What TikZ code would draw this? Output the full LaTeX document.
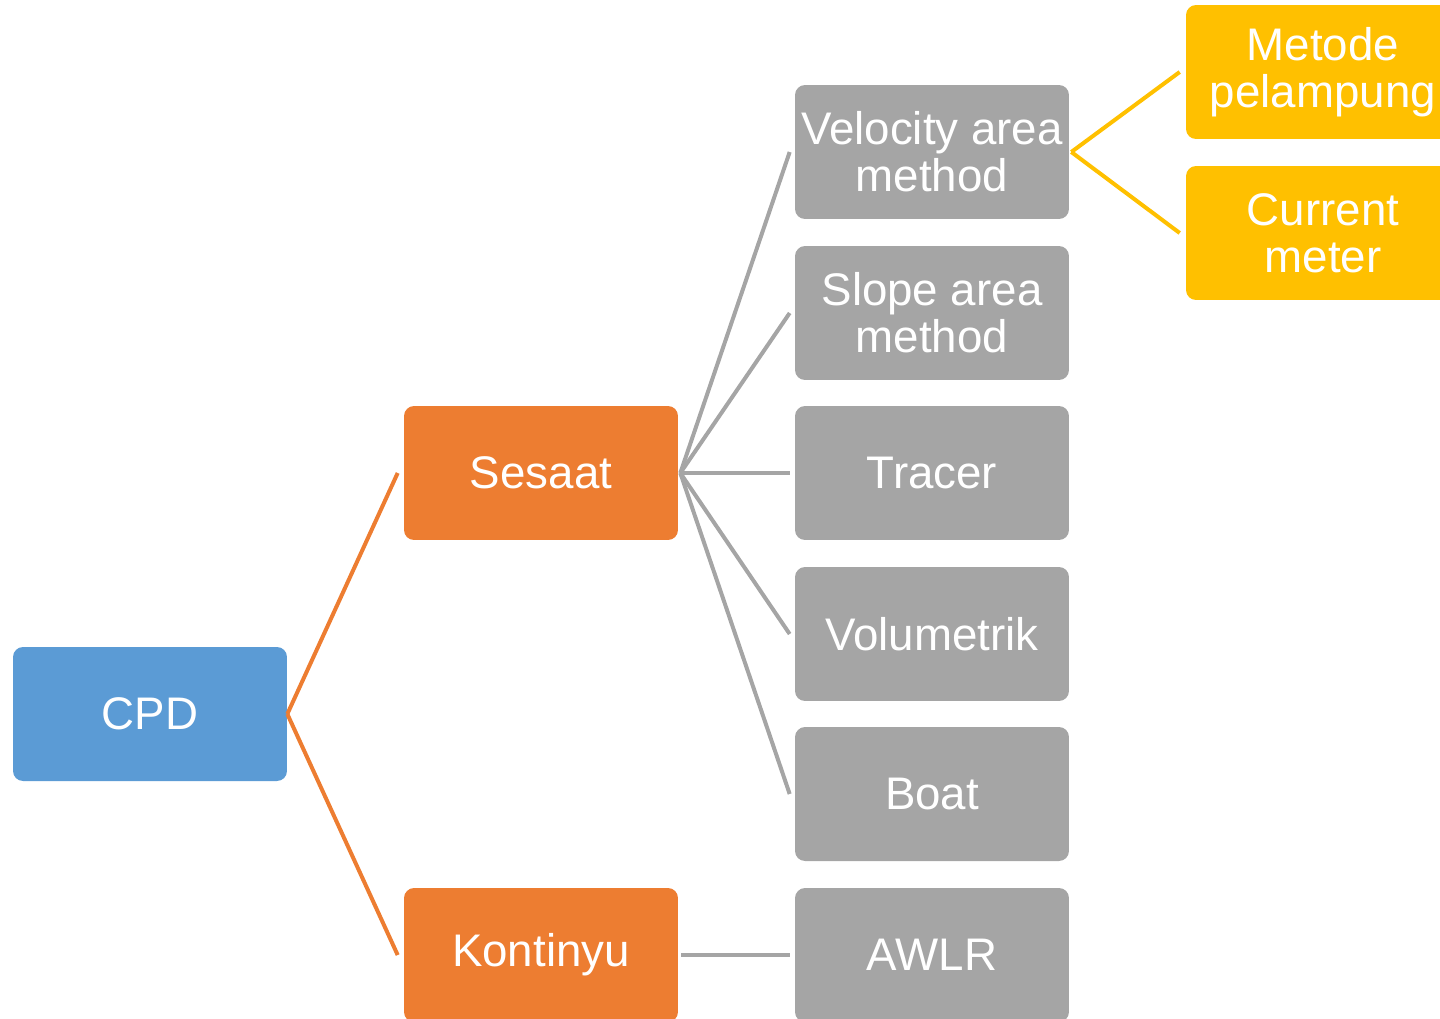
\documentclass[tikz,border=0pt]{standalone}
\usepackage{fontspec}
\setmainfont{Liberation Sans}
\usetikzlibrary{calc}
\definecolor{cpdblue}{HTML}{5B9BD5}
\definecolor{branchorange}{HTML}{ED7D31}
\definecolor{leafgrey}{HTML}{A5A5A5}
\definecolor{subyellow}{HTML}{FFC000}
\begin{document}
\begin{tikzpicture}[x=0.02cm,y=-0.02cm,
  box/.style={rounded corners=0.2cm, minimum width=5.48cm, minimum height=2.68cm,
    inner sep=0pt, text=white, align=center, font=\fontsize{26}{26.8}\selectfont},
  rootbox/.style={box, fill=cpdblue},
  branchbox/.style={box, fill=branchorange},
  leafbox/.style={box, fill=leafgrey},
  subbox/.style={box, fill=subyellow},
  link/.style={line width=0.08cm},
  gap/.style={}]
\useasboundingbox (0,0) rectangle (1440,1018);
\clip (0,0) rectangle (1440,1018);

% root and first level
\node[rootbox] (cpd) at (150,714) {CPD};
\node[branchbox] (sesaat) at (541,473) {Sesaat};
\node[branchbox] (kontinyu) at (541,955) {Kontinyu};

% measurement methods
\node[leafbox] (velocity) at (932,152) {Velocity area\\method};
\node[leafbox] (slope) at (932,313) {Slope area\\method};
\node[leafbox] (tracer) at (932,473) {Tracer};
\node[leafbox] (volumetrik) at (932,634) {Volumetrik};
\node[leafbox] (boat) at (932,794) {Boat};
\node[leafbox] (awlr) at (932,955) {AWLR};

% velocity-area variants
\node[subbox] (pelampung) at (1323,72) {Metode\\pelampung};
\node[subbox] (currentmeter) at (1323,233) {Current\\meter};

% connectors
\draw[link, branchorange] (cpd.east) -- ($(sesaat.west)+(-0.12cm,0)$);
\draw[link, branchorange] (cpd.east) -- ($(kontinyu.west)+(-0.12cm,0)$);
\foreach \leaf in {velocity,slope,tracer,volumetrik,boat}
  \draw[link, leafgrey] ($(sesaat.east)+(0.04cm,0)$) -- ($(\leaf.west)+(-0.1cm,0)$);
\draw[link, leafgrey] ($(kontinyu.east)+(0.06cm,0)$) -- ($(awlr.west)+(-0.1cm,0)$);
\draw[link, subyellow] ($(velocity.east)+(0.04cm,0)$) -- ($(pelampung.west)+(-0.12cm,0)$);
\draw[link, subyellow] ($(velocity.east)+(0.04cm,0)$) -- ($(currentmeter.west)+(-0.12cm,0)$);
\end{tikzpicture}
\end{document}
